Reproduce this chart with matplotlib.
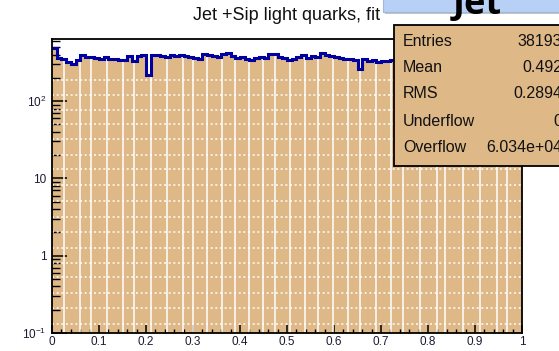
import numpy as np
import matplotlib
matplotlib.use("Agg")
import matplotlib.pyplot as plt
from matplotlib.patches import Rectangle
from matplotlib.ticker import FixedLocator, MultipleLocator, NullFormatter, LogLocator

plt.rcParams['font.family'] = ['Liberation Sans', 'DejaVu Sans']
plt.rcParams['mathtext.default'] = 'regular'

# histogram contents, 100 bins over [0, 1]
counts = [480, 360, 345, 320, 300, 335, 390, 375, 372, 360,
          352, 368, 355, 345, 340, 336, 380, 332, 385, 390,
          215, 395, 400, 388, 372, 395, 385, 400, 378, 370,
          360, 350, 410, 395, 380, 370, 412, 420, 385, 365,
          372, 350, 340, 362, 370, 365, 410, 405, 375, 360,
          340, 345, 375, 390, 360, 380, 372, 415, 398, 380,
          370, 360, 355, 350, 335, 260, 345, 330, 335, 320,
          328, 332, 338, 365, 380, 372, 360, 385, 350, 366,
          378, 345, 390, 362, 355, 370, 382, 348, 365, 376,
          358, 369, 352, 380, 364, 357, 372, 346, 368, 375]
edges = np.linspace(0.0, 1.0, len(counts) + 1)

x_ticks = [0, 0.1, 0.2, 0.3, 0.4, 0.5, 0.6, 0.7, 0.8, 0.9, 1]
x_labels = ['0', '0.1', '0.2', '0.3', '0.4', '0.5', '0.6', '0.7', '0.8', '0.9', '1']
y_ticks = [0.1, 1, 10, 100]
y_labels = ['$10^{-1}$', '1', '10', '$10^{2}$']

stat_names = ['Entries', 'Mean', 'RMS', 'Underflow', 'Overflow']
stat_values = ['38193', '0.492', '0.2894', '0', '6.034e+04']

title = 'Jet +Sip light quarks, fit'

# bright streaks left in the filled area (x positions, pixel rows)
streak_x = [64, 80, 91, 107, 123, 134, 151, 167, 183, 193, 207, 222, 235, 249,
            263, 275, 290, 305, 318, 333, 348, 360, 376, 391, 403, 420, 437,
            445, 463, 480, 497, 507]
streak_rows = [80, 95, 110, 124, 139, 155, 169, 185, 201, 217, 232, 248, 263,
               277, 293, 308, 324]

W, H = 559, 351
fill_col = '#deb887'
line_col = '#0000a0'

fig = plt.figure(figsize=(W / 100, H / 100), dpi=100)
x0, x1, ytop, ybot = 52, 522, 39, 333
ax = fig.add_axes([x0 / W, (H - ybot) / H, (x1 - x0) / W, (ybot - ytop) / H])

ymin, ymax = 0.1, 635
ax.set_yscale('log')
ax.set_xlim(0, 1)
ax.set_ylim(ymin, ymax)

ax.stairs(counts, edges, fill=True, color=fill_col, baseline=ymin, zorder=1)

# white streak artefacts inside the fill
def px2x(px):
    return (px - x0) / (x1 - x0)

def row2y(py):
    frac = (ybot - py) / (ybot - ytop)
    return 10 ** (np.log10(ymin) + frac * (np.log10(ymax) - np.log10(ymin)))

for px in streak_x:
    xv = px2x(px)
    i = min(int(xv * len(counts)), len(counts) - 1)
    ax.vlines(xv, ymin, counts[i], color='white', lw=1.3, alpha=0.85, zorder=2)
for py in streak_rows:
    ax.axhline(row2y(py), color='white', lw=1.2, ls=(0, (1.2, 1.6)), alpha=0.9, zorder=2)

ax.stairs(counts, edges, baseline=None, color=line_col, lw=2.2, zorder=3)

for s in ax.spines.values():
    s.set_linewidth(1.3)
    s.set_color('black')
    s.set_zorder(4)

ax.xaxis.set_major_locator(FixedLocator(x_ticks))
ax.set_xticklabels(x_labels)
ax.xaxis.set_minor_locator(MultipleLocator(0.02))
ax.yaxis.set_major_locator(FixedLocator(y_ticks))
ax.set_yticklabels(y_labels)
ax.yaxis.set_minor_locator(LogLocator(base=10, subs=np.arange(2, 10)))
ax.yaxis.set_minor_formatter(NullFormatter())

ax.tick_params(axis='x', which='major', direction='in', length=6, width=1.1, labelsize=8.5, pad=2)
ax.tick_params(axis='x', which='minor', direction='in', length=3, width=1.0)
ax.tick_params(axis='y', which='major', direction='in', length=10.5, width=1.1, labelsize=8.5, pad=4)
ax.tick_params(axis='y', which='minor', direction='in', length=5.5, width=1.0)
for lab in ax.get_xticklabels() + ax.get_yticklabels():
    lab.set_color('#1b1b33')

def fx(px):
    return px / W

def fy(py):
    return (H - py) / H

# title, partly covered by the banner
fig.text(fx(193), fy(16), title, fontsize=13, ha='left', va='center', color='#111111')

# stats box
fig.add_artist(Rectangle((fx(394), fy(166)), fx(200), (166 - 25) / H,
                         transform=fig.transFigure, facecolor=fill_col,
                         edgecolor='black', lw=1.3, zorder=5))
rows = [41, 67, 94, 122, 148]
for name, val, py in zip(stat_names, stat_values, rows):
    fig.text(fx(403), fy(py), name, fontsize=11.5, ha='left', va='center', zorder=6, color='#111111')
    fig.text(fx(562), fy(py), val, fontsize=11.5, ha='right', va='center', zorder=6, color='#111111')

# blue banner at the top right
fig.add_artist(Rectangle((fx(385), fy(14)), fx(180), 20 / H, transform=fig.transFigure,
                         facecolor='#8a8a8a', edgecolor='none', alpha=0.5, zorder=7))
fig.add_artist(Rectangle((fx(383), fy(12)), fx(180), 20 / H, transform=fig.transFigure,
                         facecolor='#b7d1f6', edgecolor='#9fb8dc', lw=0.8, zorder=8))
fig.text(fx(477), fy(14), 'Jet', fontsize=26, fontweight='bold', family=['Open Sans', 'DejaVu Sans'],
         ha='center', va='baseline', color='black', zorder=9)

fig.savefig('out.png', dpi=100)
